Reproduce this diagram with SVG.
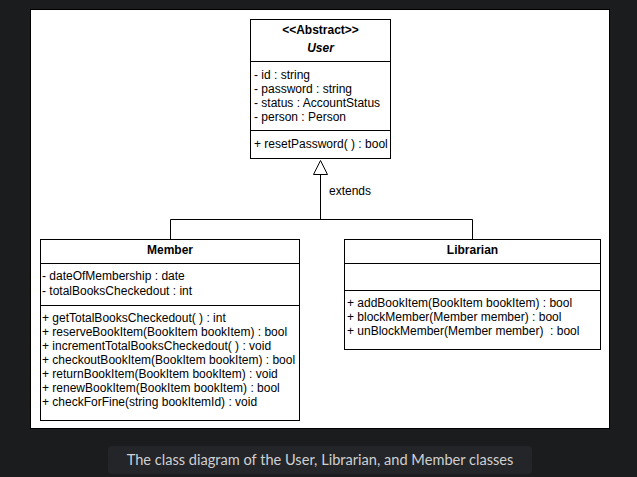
<svg xmlns="http://www.w3.org/2000/svg" width="637" height="477" viewBox="0 0 637 477">
<style>
.box{fill:#fff;stroke:#000;stroke-width:1}
.ln{stroke:#000;stroke-width:1;fill:none}
.t{font-family:"Liberation Sans",Arial,sans-serif;font-size:12px;fill:#000}
.b{font-weight:bold}
.c{text-anchor:middle}
.cap{font-family:Lato,"Open Sans",sans-serif;font-size:14.6px;fill:#cfd0d2;text-anchor:middle}
</style>
<rect x="0" y="0" width="637" height="477" fill="#1b1c1e"/>
<rect x="30.5" y="9.5" width="579" height="419" fill="#fff" stroke="#000" stroke-width="1"/>
<g id="connectors">
<path class="ln" d="M320.5,174 V219.5 M170.5,239 V219.5 H472.5 V239"/>
<polygon points="320.5,160.5 313.5,174.5 327.5,174.5" fill="#fff" stroke="#000" stroke-width="1"/>
<text class="t" x="329" y="195">extends</text>
</g>
<g id="user">
<rect class="box" x="250.5" y="19.5" width="140" height="139"/>
<path class="ln" d="M250.5,61.5 H390.5 M250.5,130.5 H390.5"/>
<text class="t b c" x="320.5" y="34">&lt;&lt;Abstract&gt;&gt;</text>
<text class="t b c" x="320.5" y="52" font-style="italic">User</text>
<text class="t" x="254" y="79">- id : string</text>
<text class="t" x="254" y="93">- password : string</text>
<text class="t" x="254" y="107">- status : AccountStatus</text>
<text class="t" x="254" y="121">- person : Person</text>
<text class="t" x="254" y="148">+ resetPassword( ) : bool</text>
</g>
<g id="member">
<rect class="box" x="40.5" y="239.5" width="259" height="181"/>
<path class="ln" d="M40.5,263.5 H299.5 M40.5,305.5 H299.5"/>
<text class="t b c" x="170" y="254">Member</text>
<text class="t" x="42" y="280">- dateOfMembership : date</text>
<text class="t" x="42" y="295">- totalBooksCheckedout : int</text>
<text class="t" x="42" y="322">+ getTotalBooksCheckedout( ) : int</text>
<text class="t" x="42" y="336">+ reserveBookItem(BookItem bookItem) : bool</text>
<text class="t" x="42" y="350">+ incrementTotalBooksCheckedout( ) : void</text>
<text class="t" x="42" y="364">+ checkoutBookItem(BookItem bookItem) : bool</text>
<text class="t" x="42" y="378">+ returnBookItem(BookItem bookItem) : void</text>
<text class="t" x="42" y="392">+ renewBookItem(BookItem bookItem) : bool</text>
<text class="t" x="42" y="406">+ checkForFine(string bookItemId) : void</text>
</g>
<g id="librarian">
<rect class="box" x="344.5" y="239.5" width="256" height="110"/>
<path class="ln" d="M344.5,263.5 H600.5 M344.5,290.5 H600.5"/>
<text class="t b c" x="472.5" y="254">Librarian</text>
<text class="t" x="347" y="307">+ addBookItem(BookItem bookItem) : bool</text>
<text class="t" x="347" y="321">+ blockMember(Member member) : bool</text>
<text class="t" x="347" y="335" xml:space="preserve">+ unBlockMember(Member member)  : bool</text>
</g>
<g id="caption">
<rect x="108" y="446" width="424" height="28" rx="4" fill="#242528"/>
<text class="cap" x="320" y="465">The class diagram of the User, Librarian, and Member classes</text>
</g>
</svg>
